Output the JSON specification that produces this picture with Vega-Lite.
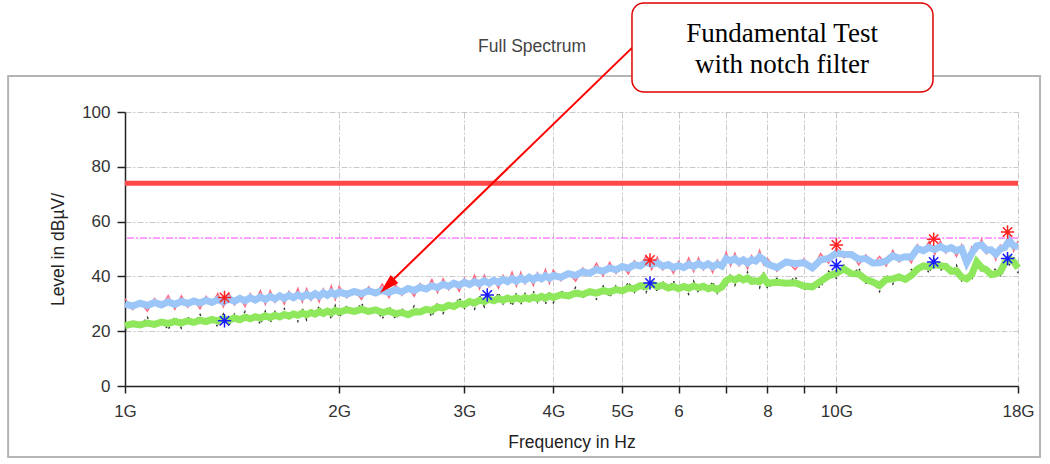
{
  "$schema": "https://vega.github.io/schema/vega-lite/v6.json",
  "width": 893,
  "height": 274,
  "autosize": {"type": "none"},
  "padding": {"left": 125, "top": 112, "right": 32, "bottom": 78},
  "background": "white",
  "view": {"stroke": null},
  "datasets": {
    "trace": [
      {"f":1.000,"b":29.9,"r":31.9,"g":22.0,"k":20.1},{"f":1.025,"b":29.2,"r":27.9,"g":22.7,"k":24.1},{"f":1.050,"b":30.2,"r":30.7,"g":22.3,"k":21.7},{"f":1.075,"b":29.4,"r":27.3,"g":23.0,"k":25.1},{"f":1.100,"b":30.5,"r":31.9,"g":22.5,"k":21.2},
      {"f":1.125,"b":29.6,"r":29.0,"g":23.3,"k":23.8},{"f":1.150,"b":30.7,"r":33.0,"g":22.8,"k":20.6},{"f":1.175,"b":29.8,"r":28.0,"g":23.6,"k":25.3},{"f":1.200,"b":30.9,"r":32.9,"g":23.0,"k":21.1},{"f":1.225,"b":30.1,"r":28.8,"g":23.8,"k":25.2},
      {"f":1.250,"b":31.0,"r":31.5,"g":23.2,"k":22.6},{"f":1.275,"b":30.3,"r":28.2,"g":24.0,"k":26.1},{"f":1.300,"b":31.3,"r":32.7,"g":23.5,"k":22.2},{"f":1.325,"b":30.5,"r":29.9,"g":24.3,"k":24.8},{"f":1.350,"b":31.5,"r":33.8,"g":23.8,"k":21.6},
      {"f":1.375,"b":30.7,"r":28.9,"g":24.6,"k":26.3},{"f":1.400,"b":31.8,"r":33.8,"g":24.0,"k":22.1},{"f":1.425,"b":30.9,"r":29.6,"g":24.8,"k":26.2},{"f":1.450,"b":32.0,"r":32.5,"g":24.2,"k":23.6},{"f":1.475,"b":31.1,"r":29.0,"g":25.1,"k":27.2},
      {"f":1.500,"b":32.2,"r":33.6,"g":24.5,"k":23.2},{"f":1.525,"b":31.4,"r":30.8,"g":25.3,"k":25.8},{"f":1.550,"b":32.5,"r":34.8,"g":24.8,"k":22.6},{"f":1.575,"b":31.6,"r":29.8,"g":25.6,"k":27.3},{"f":1.600,"b":32.7,"r":34.7,"g":25.0,"k":23.1},
      {"f":1.625,"b":31.8,"r":30.5,"g":25.8,"k":27.2},{"f":1.650,"b":32.9,"r":33.4,"g":25.2,"k":24.6},{"f":1.675,"b":32.0,"r":29.9,"g":26.1,"k":28.2},{"f":1.700,"b":33.1,"r":34.5,"g":25.5,"k":24.2},{"f":1.725,"b":32.2,"r":31.6,"g":26.3,"k":26.8},
      {"f":1.750,"b":33.3,"r":35.6,"g":25.8,"k":23.6},{"f":1.775,"b":32.4,"r":30.6,"g":26.6,"k":28.3},{"f":1.800,"b":33.5,"r":35.5,"g":26.0,"k":24.1},{"f":1.825,"b":32.6,"r":31.3,"g":26.8,"k":28.2},{"f":1.850,"b":33.7,"r":34.2,"g":26.2,"k":25.6},
      {"f":1.875,"b":32.8,"r":30.7,"g":27.1,"k":29.2},{"f":1.900,"b":34.0,"r":35.4,"g":26.5,"k":25.2},{"f":1.925,"b":33.1,"r":32.5,"g":27.3,"k":27.8},{"f":1.950,"b":34.2,"r":36.5,"g":26.7,"k":24.5},{"f":1.975,"b":33.3,"r":31.5,"g":27.6,"k":29.3},
      {"f":2.00,"b":34.3,"r":36.3,"g":27.0,"k":25.1},{"f":2.05,"b":33.5,"r":32.2,"g":27.8,"k":29.2},{"f":2.10,"b":34.5,"r":35.0,"g":27.2,"k":26.6},{"f":2.15,"b":33.7,"r":31.6,"g":28.0,"k":30.1},{"f":2.20,"b":34.8,"r":36.2,"g":27.2,"k":25.9},
      {"f":2.25,"b":33.9,"r":33.3,"g":27.8,"k":28.3},{"f":2.30,"b":34.9,"r":37.2,"g":26.8,"k":24.6},{"f":2.35,"b":34.1,"r":32.3,"g":27.4,"k":29.1},{"f":2.40,"b":35.1,"r":37.1,"g":26.4,"k":24.5},{"f":2.45,"b":34.4,"r":33.1,"g":26.8,"k":28.2},
      {"f":2.50,"b":35.6,"r":36.1,"g":26.0,"k":25.4},{"f":2.55,"b":34.9,"r":32.8,"g":27.1,"k":29.2},{"f":2.60,"b":36.0,"r":37.4,"g":27.0,"k":25.7},{"f":2.65,"b":35.4,"r":34.8,"g":28.0,"k":28.5},{"f":2.70,"b":36.6,"r":38.9,"g":27.6,"k":25.4},
      {"f":2.75,"b":35.9,"r":34.1,"g":28.8,"k":30.5},{"f":2.80,"b":37.1,"r":39.1,"g":28.4,"k":26.5},{"f":2.85,"b":36.4,"r":35.1,"g":29.5,"k":30.9},{"f":2.90,"b":37.5,"r":38.0,"g":29.0,"k":28.4},{"f":2.95,"b":36.7,"r":34.6,"g":30.1,"k":32.2},
      {"f":3.00,"b":37.9,"r":39.3,"g":29.7,"k":28.4},{"f":3.05,"b":37.0,"r":36.4,"g":30.8,"k":31.3},{"f":3.10,"b":38.1,"r":40.4,"g":30.3,"k":28.1},{"f":3.15,"b":37.3,"r":35.5,"g":31.3,"k":33.0},{"f":3.20,"b":38.4,"r":40.4,"g":30.8,"k":28.9},
      {"f":3.25,"b":37.5,"r":36.2,"g":31.7,"k":33.1},{"f":3.30,"b":38.6,"r":39.1,"g":31.1,"k":30.5},{"f":3.35,"b":37.8,"r":35.7,"g":31.9,"k":34.0},{"f":3.40,"b":38.9,"r":40.3,"g":31.3,"k":30.0},{"f":3.45,"b":38.1,"r":37.5,"g":32.1,"k":32.6},
      {"f":3.50,"b":39.2,"r":41.5,"g":31.5,"k":29.3},{"f":3.55,"b":38.3,"r":36.5,"g":32.2,"k":33.9},{"f":3.60,"b":39.4,"r":41.4,"g":31.6,"k":29.7},{"f":3.65,"b":38.6,"r":37.3,"g":32.3,"k":33.7},{"f":3.70,"b":39.7,"r":40.2,"g":31.7,"k":31.1},
      {"f":3.75,"b":38.8,"r":36.7,"g":32.5,"k":34.6},{"f":3.80,"b":39.9,"r":41.3,"g":31.9,"k":30.6},{"f":3.85,"b":39.1,"r":38.5,"g":32.7,"k":33.2},{"f":3.90,"b":40.2,"r":42.5,"g":32.1,"k":29.9},{"f":3.95,"b":39.3,"r":37.5,"g":32.9,"k":34.6},
      {"f":4.0,"b":40.3,"r":42.3,"g":32.3,"k":30.4},{"f":4.1,"b":39.7,"r":38.4,"g":33.3,"k":34.7},{"f":4.2,"b":41.0,"r":41.5,"g":32.9,"k":32.3},{"f":4.3,"b":40.4,"r":38.3,"g":33.9,"k":36.0},{"f":4.4,"b":41.7,"r":43.1,"g":33.4,"k":32.1},
      {"f":4.5,"b":41.1,"r":40.5,"g":34.4,"k":34.9},{"f":4.6,"b":42.5,"r":44.8,"g":33.9,"k":31.7},{"f":4.7,"b":41.9,"r":40.1,"g":34.8,"k":36.5},{"f":4.8,"b":43.1,"r":45.1,"g":34.3,"k":32.4},{"f":4.9,"b":42.4,"r":41.1,"g":35.2,"k":36.6},
      {"f":5.0,"b":43.6,"r":44.1,"g":34.7,"k":34.1},{"f":5.1,"b":43.0,"r":40.9,"g":35.8,"k":37.9},{"f":5.2,"b":44.3,"r":45.7,"g":35.5,"k":34.2},{"f":5.3,"b":43.8,"r":43.2,"g":36.6,"k":37.1},{"f":5.4,"b":45.2,"r":47.5,"g":36.3,"k":34.1},
      {"f":5.5,"b":44.3,"r":42.5,"g":37.2,"k":38.9},{"f":5.6,"b":45.0,"r":47.0,"g":36.3,"k":34.4},{"f":5.7,"b":43.7,"r":42.4,"g":36.8,"k":38.2},{"f":5.8,"b":44.3,"r":44.8,"g":35.8,"k":35.2},{"f":5.9,"b":43.2,"r":41.1,"g":36.3,"k":38.4},
      {"f":6.0,"b":44.0,"r":45.4,"g":35.5,"k":34.2},{"f":6.1,"b":43.2,"r":42.6,"g":36.3,"k":36.8},{"f":6.2,"b":44.4,"r":46.7,"g":35.7,"k":33.5},{"f":6.3,"b":43.6,"r":41.8,"g":36.5,"k":38.2},{"f":6.4,"b":44.7,"r":46.7,"g":35.9,"k":34.0},
      {"f":6.5,"b":43.7,"r":42.4,"g":36.4,"k":37.8},{"f":6.6,"b":44.6,"r":45.1,"g":35.5,"k":34.9},{"f":6.7,"b":43.5,"r":41.4,"g":36.0,"k":38.1},{"f":6.8,"b":44.5,"r":45.9,"g":35.2,"k":33.9},{"f":6.9,"b":43.8,"r":43.2,"g":36.1,"k":36.6},
      {"f":7.0,"b":46.5,"r":48.8,"g":38.4,"k":36.2},{"f":7.1,"b":45.7,"r":43.9,"g":39.3,"k":41.0},{"f":7.2,"b":46.4,"r":48.4,"g":38.7,"k":36.8},{"f":7.3,"b":45.2,"r":43.9,"g":39.5,"k":40.9},{"f":7.4,"b":46.0,"r":46.5,"g":38.7,"k":38.1},
      {"f":7.5,"b":44.9,"r":42.8,"g":39.4,"k":41.5},{"f":7.6,"b":46.1,"r":47.5,"g":38.2,"k":36.9},{"f":7.7,"b":45.6,"r":45.0,"g":38.4,"k":38.9},{"f":7.8,"b":47.1,"r":49.4,"g":38.1,"k":35.9},{"f":7.9,"b":46.1,"r":44.3,"g":39.7,"k":41.4},
      {"f":8.00,"b":44.5,"r":46.5,"g":37.5,"k":35.6},{"f":8.25,"b":43.2,"r":41.9,"g":37.9,"k":39.3},{"f":8.50,"b":45.3,"r":45.8,"g":37.5,"k":36.9},{"f":8.75,"b":44.6,"r":42.5,"g":37.7,"k":39.8},{"f":9.00,"b":45.0,"r":46.4,"g":36.5,"k":35.2},
      {"f":9.25,"b":43.1,"r":42.5,"g":36.2,"k":36.7},{"f":9.50,"b":46.0,"r":48.3,"g":38.2,"k":36.0},{"f":9.75,"b":46.6,"r":44.8,"g":40.2,"k":41.9},{"f":10.00,"b":48.5,"r":50.5,"g":41.2,"k":39.3},{"f":10.25,"b":48.1,"r":46.8,"g":42.7,"k":44.1},
      {"f":10.50,"b":48.0,"r":48.5,"g":41.0,"k":40.4},{"f":10.75,"b":46.3,"r":44.2,"g":40.9,"k":43.0},{"f":11.00,"b":46.5,"r":47.9,"g":38.9,"k":37.6},{"f":11.25,"b":44.9,"r":44.3,"g":38.0,"k":38.5},{"f":11.50,"b":45.0,"r":47.3,"g":36.7,"k":34.5},
      {"f":11.75,"b":45.6,"r":43.8,"g":38.9,"k":40.6},{"f":12.00,"b":47.5,"r":49.5,"g":39.1,"k":37.2},{"f":12.25,"b":46.6,"r":45.3,"g":39.8,"k":41.2},{"f":12.50,"b":47.2,"r":47.7,"g":38.9,"k":38.3},{"f":12.75,"b":47.1,"r":45.0,"g":40.4,"k":42.5},
      {"f":13.00,"b":50.1,"r":51.5,"g":42.7,"k":41.4},{"f":13.25,"b":49.4,"r":48.8,"g":43.8,"k":44.3},{"f":13.50,"b":50.5,"r":52.8,"g":43.5,"k":41.3},{"f":13.75,"b":49.8,"r":48.0,"g":44.4,"k":46.1},{"f":14.00,"b":50.9,"r":52.9,"g":43.9,"k":42.0},
      {"f":14.25,"b":49.8,"r":48.5,"g":43.6,"k":45.0},{"f":14.50,"b":50.5,"r":51.0,"g":41.9,"k":41.3},{"f":14.75,"b":49.4,"r":47.3,"g":42.0,"k":44.1},{"f":15.00,"b":50.1,"r":51.5,"g":39.7,"k":38.4},{"f":15.25,"b":45.1,"r":44.5,"g":39.1,"k":39.6},
      {"f":15.50,"b":48.5,"r":50.8,"g":40.7,"k":38.5},{"f":15.75,"b":51.1,"r":49.3,"g":45.3,"k":47.0},{"f":16.00,"b":51.5,"r":53.5,"g":43.2,"k":41.3},{"f":16.25,"b":49.6,"r":48.3,"g":42.4,"k":43.8},{"f":16.50,"b":49.7,"r":50.2,"g":40.7,"k":40.1},
      {"f":16.75,"b":48.1,"r":46.0,"g":40.9,"k":43.0},{"f":17.00,"b":50.0,"r":51.4,"g":41.7,"k":40.4},{"f":17.25,"b":50.6,"r":50.0,"g":44.9,"k":45.4},{"f":17.50,"b":53.1,"r":55.4,"g":46.4,"k":44.2},{"f":17.75,"b":51.1,"r":49.3,"g":45.4,"k":47.1},
      {"f":18.00,"b":50.9,"r":52.9,"g":43.1,"k":41.2}
    ],
    "stars": [
      {"f":1.38,"v":32.3,"det":"peak"},{"f":5.47,"v":46.0,"det":"peak"},{"f":10.0,"v":51.5,"det":"peak"},{"f":13.7,"v":53.6,"det":"peak"},{"f":17.4,"v":56.2,"det":"peak"},
      {"f":1.38,"v":23.8,"det":"avg"},{"f":3.23,"v":33.2,"det":"avg"},{"f":5.47,"v":37.6,"det":"avg"},{"f":10.0,"v":44.0,"det":"avg"},{"f":13.7,"v":45.3,"det":"avg"},{"f":17.4,"v":46.5,"det":"avg"}
    ]
  },
  "layer": [
    {
      "data": {"name": "trace"},
      "mark": {"type": "line", "color": "#ff6a80", "strokeWidth": 1.5},
      "encoding": {
        "x": {"field": "f", "type": "quantitative", "scale": {"type": "log", "domain": [1, 18], "nice": false},
          "axis": {
            "title": "Frequency in Hz", "values": [1, 2, 3, 4, 5, 6, 7, 8, 9, 10, 18],
            "labelExpr": "datum.value == 6 || datum.value == 8 ? '' + datum.value : (datum.value == 7 || datum.value == 9 ? '' : datum.value + 'G')",
            "grid": true, "gridColor": "#c8c8c8", "gridDash": [6, 2, 2, 2], "gridWidth": 1,
            "domainColor": "#222", "domainWidth": 1.5, "tickColor": "#222", "tickWidth": 1.5, "tickSize": 7,
            "labelFont": "Liberation Sans", "labelFontSize": 17, "labelColor": "#333", "labelPadding": 10, "labelFlush": false, "labelOverlap": false,
            "titleFont": "Liberation Sans", "titleFontSize": 17.5, "titleFontWeight": "normal", "titleColor": "#222", "titlePadding": 14
          }},
        "y": {"field": "r", "type": "quantitative", "scale": {"domain": [0, 100], "nice": false},
          "axis": {
            "title": "Level in dBµV/", "values": [0, 10, 20, 30, 40, 50, 60, 70, 80, 90, 100],
            "labelExpr": "datum.value % 20 == 0 ? '' + datum.value : ''",
            "grid": true, "gridColor": "#c8c8c8", "gridDash": [6, 2, 2, 2], "gridWidth": 1,
            "domainColor": "#222", "domainWidth": 1.5, "tickColor": "#222", "tickWidth": 1.5, "tickSize": 8,
            "labelFont": "Liberation Sans", "labelFontSize": 17, "labelColor": "#333", "labelPadding": 7, "labelFlush": false, "labelOverlap": false,
            "titleFont": "Liberation Sans", "titleFontSize": 17.5, "titleFontWeight": "normal", "titleColor": "#222", "titlePadding": 14
          }}
      }
    },
    {
      "data": {"name": "trace"},
      "mark": {"type": "line", "color": "#9cc6f7", "strokeWidth": 7},
      "encoding": {
        "x": {"field": "f", "type": "quantitative", "scale": {"type": "log", "domain": [1, 18], "nice": false}},
        "y": {"field": "b", "type": "quantitative", "scale": {"domain": [0, 100], "nice": false}}
      }
    },
    {
      "data": {"name": "trace"},
      "mark": {"type": "line", "color": "#333333", "strokeWidth": 1.5, "strokeDash": [2, 3]},
      "encoding": {
        "x": {"field": "f", "type": "quantitative", "scale": {"type": "log", "domain": [1, 18], "nice": false}},
        "y": {"field": "k", "type": "quantitative", "scale": {"domain": [0, 100], "nice": false}}
      }
    },
    {
      "data": {"name": "trace"},
      "mark": {"type": "line", "color": "#8fe85c", "strokeWidth": 7},
      "encoding": {
        "x": {"field": "f", "type": "quantitative", "scale": {"type": "log", "domain": [1, 18], "nice": false}},
        "y": {"field": "g", "type": "quantitative", "scale": {"domain": [0, 100], "nice": false}}
      }
    },
    {
      "data": {"values": [{"limit": 74}]},
      "mark": {"type": "rule", "color": "#ff4848", "strokeWidth": 5},
      "encoding": {
        "y": {"field": "limit", "type": "quantitative", "scale": {"domain": [0, 100], "nice": false}}
      }
    },
    {
      "data": {"values": [{"limit": 54}]},
      "mark": {"type": "rule", "color": "#ff44ff", "strokeWidth": 1, "strokeDash": [7, 2, 2, 2]},
      "encoding": {
        "y": {"field": "limit", "type": "quantitative", "scale": {"domain": [0, 100], "nice": false}}
      }
    },
    {
      "data": {"name": "stars"},
      "mark": {"type": "point", "shape": "M-1,0L1,0M0,-1L0,1M-0.7,-0.7L0.7,0.7M-0.7,0.7L0.7,-0.7", "filled": false, "strokeWidth": 1.5, "size": 180, "opacity": 1},
      "encoding": {
        "x": {"field": "f", "type": "quantitative", "scale": {"type": "log", "domain": [1, 18], "nice": false}},
        "y": {"field": "v", "type": "quantitative", "scale": {"domain": [0, 100], "nice": false}},
        "color": {"field": "det", "type": "nominal", "scale": {"domain": ["peak", "avg"], "range": ["#ff2020", "#1a1aff"]}, "legend": null}
      }
    },
    {
      "data": {"values": [{}]},
      "mark": {"type": "rect", "fill": null, "stroke": "#b4b4b4", "strokeWidth": 2, "clip": false},
      "encoding": {
        "x": {"datum": 0.685, "type": "quantitative", "scale": {"type": "log", "domain": [1, 18], "nice": false}},
        "x2": {"datum": 19.33},
        "y": {"datum": -25.9, "type": "quantitative", "scale": {"domain": [0, 100], "nice": false}},
        "y2": {"datum": 113.1}
      }
    },
    {
      "data": {"values": [{"title": "Full Spectrum"}]},
      "mark": {"type": "text", "font": "Liberation Sans", "fontSize": 17.5, "color": "#444", "align": "center", "baseline": "alphabetic", "clip": false},
      "encoding": {
        "x": {"datum": 3.734, "type": "quantitative", "scale": {"type": "log", "domain": [1, 18], "nice": false}},
        "y": {"datum": 121.9, "type": "quantitative", "scale": {"domain": [0, 100], "nice": false}},
        "text": {"field": "title"}
      }
    },
    {
      "data": {"values": [{}]},
      "mark": {"type": "rule", "color": "#ff0000", "strokeWidth": 2, "clip": false},
      "encoding": {
        "x": {"datum": 5.16, "type": "quantitative", "scale": {"type": "log", "domain": [1, 18], "nice": false}},
        "x2": {"datum": 2.33},
        "y": {"datum": 123.4, "type": "quantitative", "scale": {"domain": [0, 100], "nice": false}},
        "y2": {"datum": 36.4}
      }
    },
    {
      "data": {"values": [{}]},
      "mark": {"type": "point", "shape": "M0,-1L0.55,1L-0.55,1Z", "filled": true, "color": "#ff0000", "opacity": 1, "size": 400, "angle": 226, "clip": false},
      "encoding": {
        "x": {"datum": 2.337, "type": "quantitative", "scale": {"type": "log", "domain": [1, 18], "nice": false}},
        "y": {"datum": 36.5, "type": "quantitative", "scale": {"domain": [0, 100], "nice": false}}
      }
    },
    {
      "data": {"values": [{}]},
      "mark": {"type": "rect", "fill": "white", "stroke": "#e00000", "strokeWidth": 1.5, "cornerRadius": 12, "clip": false},
      "encoding": {
        "x": {"datum": 5.16, "type": "quantitative", "scale": {"type": "log", "domain": [1, 18], "nice": false}},
        "x2": {"datum": 13.67},
        "y": {"datum": 107.3, "type": "quantitative", "scale": {"domain": [0, 100], "nice": false}},
        "y2": {"datum": 139.8}
      }
    },
    {
      "data": {"values": [{"line": "Fundamental Test", "lvl": 125.5}, {"line": "with notch filter", "lvl": 114.2}]},
      "mark": {"type": "text", "font": "Liberation Serif", "fontSize": 27, "color": "#000", "align": "center", "baseline": "alphabetic", "clip": false},
      "encoding": {
        "x": {"datum": 8.387, "type": "quantitative", "scale": {"type": "log", "domain": [1, 18], "nice": false}},
        "y": {"field": "lvl", "type": "quantitative", "scale": {"domain": [0, 100], "nice": false}},
        "text": {"field": "line"}
      }
    }
  ]
}
